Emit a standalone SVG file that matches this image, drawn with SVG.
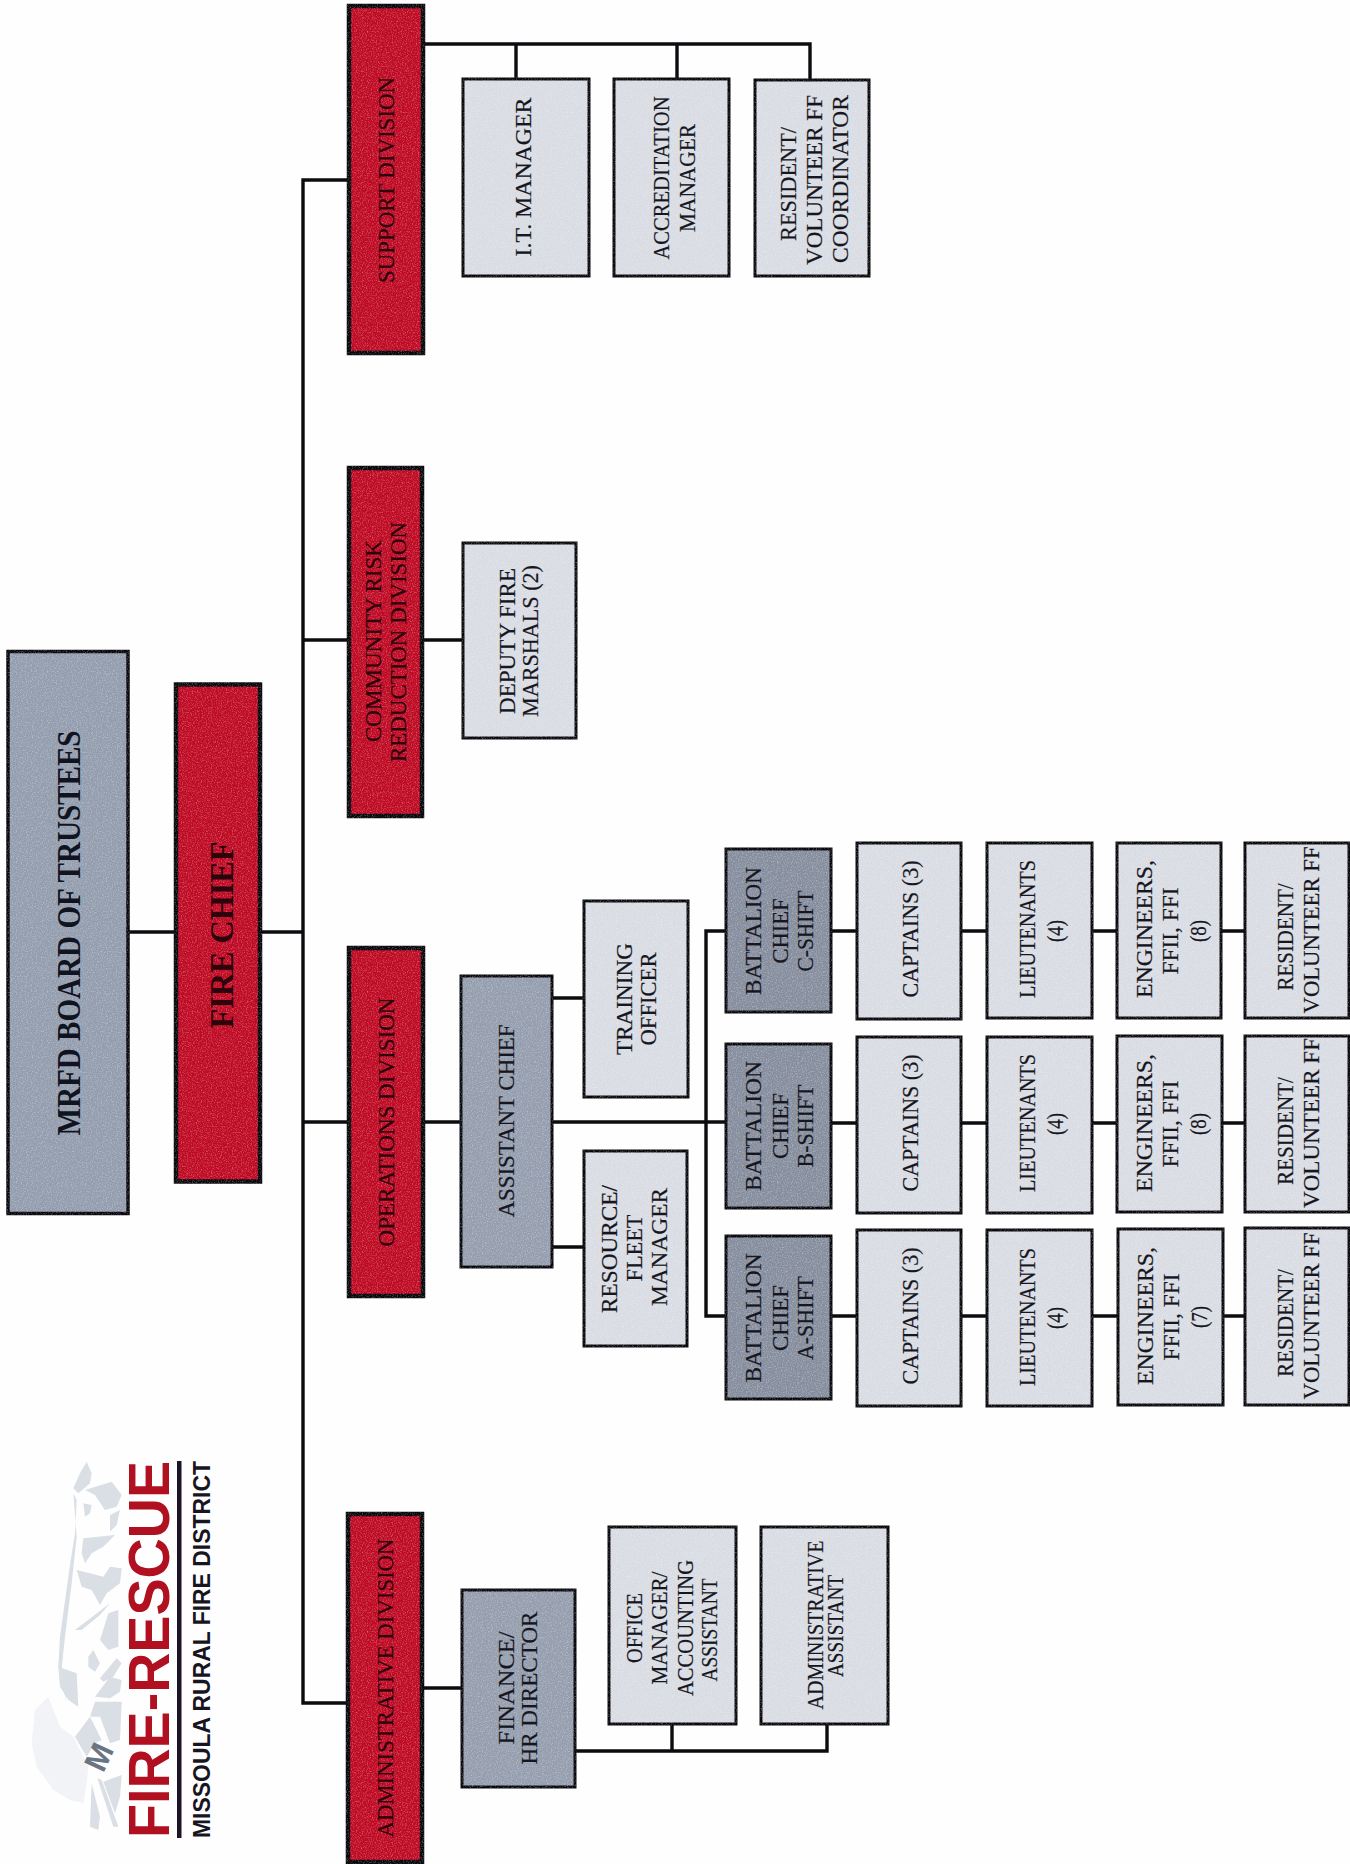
<svg xmlns="http://www.w3.org/2000/svg" width="1350" height="1864" viewBox="0 0 1350 1864">
<defs>
<filter id="grain" x="-8%" y="-8%" width="116%" height="116%" color-interpolation-filters="sRGB">
<feTurbulence type="fractalNoise" baseFrequency="0.8" numOctaves="2" seed="3" result="n"/>
<feColorMatrix in="n" type="matrix" values="0 0 0 0 1 0 0 0 0 1 0 0 0 0 1 0.8 0 0 0 -0.36" result="a"/>
<feComposite in="a" in2="SourceGraphic" operator="in" result="b"/>
<feMerge><feMergeNode in="SourceGraphic"/><feMergeNode in="b"/></feMerge>
</filter>
</defs>
<style>
.bg{fill:#fefefe}
rect.n{stroke:#08080c;filter:url(#grain)}
.red{fill:#bf0a24;stroke-width:4.5}
.top{fill:#939dae;stroke-width:3.5}
.sl{fill:#959eae;stroke-width:3}
.bc{fill:#868e9e;stroke-width:3}
.lt{fill:#d9dce3;stroke-width:3}
text{font-family:"Liberation Serif","Times New Roman",serif;font-size:23px;text-anchor:middle;fill:#16161e;stroke:#16161e;stroke-width:.2}
text.r{fill:#2e040c;stroke:#2e040c}
text.b{font-weight:700;font-size:33px;fill:#101420;stroke:none}
text.rb{font-weight:700;font-size:34px;fill:#2e040c;stroke:none}
.c{fill:none;stroke:#0c0c10;stroke-width:3.4;stroke-linejoin:miter}
.m{fill:#dadee5}
.m2{fill:#f1f3f6}
text.l1{font-family:"Liberation Sans",Arial,sans-serif;font-weight:700;font-size:57px;fill:#b0101f;text-anchor:start;stroke:none}
text.l2{font-family:"Liberation Sans",Arial,sans-serif;font-weight:700;font-size:23.5px;fill:#17151f;text-anchor:start;stroke:none}
text.l3{font-family:"Liberation Sans",Arial,sans-serif;font-weight:700;font-size:32px;fill:#6a7482;stroke:none}
</style>
<rect class="bg" width="1350" height="1864"/>

<g id="logo">
<g transform="translate(20 1450) scale(.3333)">
<polygon class="m2" points="45,780 85,740 120,830 160,860 205,950 200,1000 190,1060 150,1050 100,1020 50,950 35,880"/>
<polygon class="m" points="200,35 215,70 210,100 175,130 160,115 180,70"/>
<polygon class="m" points="195,120 275,95 305,135 290,170 255,180 225,135"/>
<polygon class="m" points="190,160 215,165 210,190 195,200"/>
<polygon class="m" points="270,195 300,180 290,225 270,245"/>
<polygon class="m" points="160,130 170,150 165,250 150,345 120,560 115,650 140,760 125,655 135,560 155,400 170,260"/>
<polygon class="m" points="190,265 285,255 250,290 215,310 195,340 185,310"/>
<polygon class="m" points="170,360 210,370 250,380 270,350 305,355 300,400 260,430 240,465 215,420 185,410"/>
<polygon class="m" points="165,540 270,460 240,495 185,540"/>
<polygon class="m" points="240,570 265,490 295,480 295,590 265,600"/>
<polygon class="m" points="205,620 220,600 240,640 225,665 205,650"/>
<polygon class="m" points="240,685 290,625 305,640 280,680 250,695"/>
<polygon class="m" points="115,650 170,670 175,770 145,750 120,710"/>
<polygon class="m" points="225,740 270,680 305,690 300,725 270,745"/>
<polygon class="m" points="225,755 305,755 300,870 270,880 240,800 210,800"/>
<polygon class="m" points="165,860 210,800 245,870 225,880 200,920"/>
<polygon class="m" points="250,995 305,975 300,1040 285,1090"/>
<polygon class="m" points="215,1000 240,1100 235,1140 210,1130"/>
<polygon class="m" points="232,985 245,990 295,1130 280,1130"/>
</g>
<text class="l3" transform="rotate(-65 99 1757)" x="99" y="1768">M</text>
<text class="l1" transform="rotate(-90 169 1838)" x="169" y="1838" textLength="377" lengthAdjust="spacingAndGlyphs">FIRE-RESCUE</text>
<rect x="177" y="1461" width="4.500" height="377" fill="#1a1426"/>
<text class="l2" transform="rotate(-90 210 1838)" x="210" y="1838" textLength="377" lengthAdjust="spacingAndGlyphs">MISSOULA RURAL FIRE DISTRICT</text>
</g>

<g id="connectors">
<path class="c" d="M128 932H303"/>
<path class="c" d="M348 180H303V1703H348"/>
<path class="c" d="M303 640H348"/>
<path class="c" d="M303 1122H348"/>
<path class="c" d="M423 44H810V79M516 44V79M677 44V79"/>
<path class="c" d="M422 640H462"/>
<path class="c" d="M423 1122H726"/>
<path class="c" d="M552 998H583M552 1247H583"/>
<path class="c" d="M726 931H706V1316H726"/>
<path class="c" d="M831 931H1245M831 1123H1245M831 1316H1245"/>
<path class="c" d="M422 1688H461"/>
<path class="c" d="M575 1751H827V1724M672 1751V1724"/>
</g>

<g id="board"><rect class="n top" x="8" y="651.500" width="120" height="562"/>
<text class="b" transform="rotate(-90 80 933)" x="80" y="933" textLength="405" lengthAdjust="spacingAndGlyphs">MRFD BOARD OF TRUSTEES</text></g>
<g id="fire-chief"><rect class="n red" x="176" y="684.500" width="84" height="497"/>
<text class="rb" transform="rotate(-90 233 935)" x="233" y="935" textLength="187" lengthAdjust="spacingAndGlyphs">FIRE CHIEF</text></g>

<g id="support-division"><rect class="n red" x="349" y="6" width="74" height="347"/>
<text class="r" transform="rotate(-90 394 180)" x="394" y="180" textLength="206" lengthAdjust="spacingAndGlyphs">SUPPORT DIVISION</text></g>
<g id="it-manager"><rect class="n lt" x="463" y="79" width="126" height="197"/>
<text transform="rotate(-90 531 177)" x="531" y="177" textLength="159" lengthAdjust="spacingAndGlyphs">I.T. MANAGER</text></g>
<g id="accreditation-manager"><rect class="n lt" x="614" y="79" width="115" height="197"/>
<text transform="rotate(-90 669 178)" x="669" y="178" textLength="163" lengthAdjust="spacingAndGlyphs">ACCREDITATION</text>
<text transform="rotate(-90 695 178)" x="695" y="178" textLength="108" lengthAdjust="spacingAndGlyphs">MANAGER</text></g>
<g id="volunteer-coordinator"><rect class="n lt" x="755" y="80" width="114" height="196"/>
<text transform="rotate(-90 796 184)" x="796" y="184" textLength="114" lengthAdjust="spacingAndGlyphs">RESIDENT/</text>
<text transform="rotate(-90 822 180)" x="822" y="180" textLength="170" lengthAdjust="spacingAndGlyphs">VOLUNTEER FF</text>
<text transform="rotate(-90 848 179)" x="848" y="179" textLength="168" lengthAdjust="spacingAndGlyphs">COORDINATOR</text></g>

<g id="community-risk-division"><rect class="n red" x="349" y="468" width="73" height="348"/>
<text class="r" transform="rotate(-90 381 641)" x="381" y="641" textLength="202" lengthAdjust="spacingAndGlyphs">COMMUNITY RISK</text>
<text class="r" transform="rotate(-90 406 642)" x="406" y="642" textLength="240" lengthAdjust="spacingAndGlyphs">REDUCTION DIVISION</text></g>
<g id="deputy-fire-marshals"><rect class="n lt" x="463" y="543" width="113" height="195"/>
<text transform="rotate(-90 515 641)" x="515" y="641" textLength="146" lengthAdjust="spacingAndGlyphs">DEPUTY FIRE</text>
<text transform="rotate(-90 538 641)" x="538" y="641" textLength="152" lengthAdjust="spacingAndGlyphs">MARSHALS (2)</text></g>

<g id="operations-division"><rect class="n red" x="349" y="948" width="74" height="348"/>
<text class="r" transform="rotate(-90 394 1122)" x="394" y="1122" textLength="249" lengthAdjust="spacingAndGlyphs">OPERATIONS DIVISION</text></g>
<g id="assistant-chief"><rect class="n sl" x="461" y="976" width="91" height="291"/>
<text transform="rotate(-90 514 1121)" x="514" y="1121" textLength="193" lengthAdjust="spacingAndGlyphs">ASSISTANT CHIEF</text></g>
<g id="training-officer"><rect class="n lt" x="584" y="901" width="104" height="196"/>
<text transform="rotate(-90 632 999)" x="632" y="999" textLength="112" lengthAdjust="spacingAndGlyphs">TRAINING</text>
<text transform="rotate(-90 656 999)" x="656" y="999" textLength="93" lengthAdjust="spacingAndGlyphs">OFFICER</text></g>
<g id="resource-fleet-manager"><rect class="n lt" x="584" y="1151" width="103" height="195"/>
<text transform="rotate(-90 617 1249)" x="617" y="1249" textLength="128" lengthAdjust="spacingAndGlyphs">RESOURCE/</text>
<text transform="rotate(-90 642 1248)" x="642" y="1248" textLength="67" lengthAdjust="spacingAndGlyphs">FLEET</text>
<text transform="rotate(-90 667 1247)" x="667" y="1247" textLength="118" lengthAdjust="spacingAndGlyphs">MANAGER</text></g>

<g id="bc-c"><rect class="n bc" x="726" y="849" width="105" height="163"/>
<text transform="rotate(-90 761 931)" x="761" y="931" textLength="128" lengthAdjust="spacingAndGlyphs">BATTALION</text>
<text transform="rotate(-90 788 931)" x="788" y="931" textLength="65" lengthAdjust="spacingAndGlyphs">CHIEF</text>
<text transform="rotate(-90 813 931)" x="813" y="931" textLength="81" lengthAdjust="spacingAndGlyphs">C-SHIFT</text></g>
<g id="bc-b"><rect class="n bc" x="726" y="1044" width="105" height="164"/>
<text transform="rotate(-90 761 1126)" x="761" y="1126" textLength="130" lengthAdjust="spacingAndGlyphs">BATTALION</text>
<text transform="rotate(-90 788 1126)" x="788" y="1126" textLength="66" lengthAdjust="spacingAndGlyphs">CHIEF</text>
<text transform="rotate(-90 813 1126)" x="813" y="1126" textLength="83" lengthAdjust="spacingAndGlyphs">B-SHIFT</text></g>
<g id="bc-a"><rect class="n bc" x="726" y="1236" width="105" height="163"/>
<text transform="rotate(-90 761 1318)" x="761" y="1318" textLength="129" lengthAdjust="spacingAndGlyphs">BATTALION</text>
<text transform="rotate(-90 788 1318)" x="788" y="1318" textLength="66" lengthAdjust="spacingAndGlyphs">CHIEF</text>
<text transform="rotate(-90 813 1318)" x="813" y="1318" textLength="84" lengthAdjust="spacingAndGlyphs">A-SHIFT</text></g>

<g id="captains-c"><rect class="n lt" x="857" y="843" width="104" height="176"/>
<text transform="rotate(-90 918 929)" x="918" y="929" textLength="137" lengthAdjust="spacingAndGlyphs">CAPTAINS (3)</text></g>
<g id="captains-b"><rect class="n lt" x="857" y="1037" width="104" height="176"/>
<text transform="rotate(-90 918 1123)" x="918" y="1123" textLength="137" lengthAdjust="spacingAndGlyphs">CAPTAINS (3)</text></g>
<g id="captains-a"><rect class="n lt" x="857" y="1230" width="104" height="176"/>
<text transform="rotate(-90 918 1316)" x="918" y="1316" textLength="137" lengthAdjust="spacingAndGlyphs">CAPTAINS (3)</text></g>

<g id="lieutenants-c"><rect class="n lt" x="987" y="843" width="105" height="175"/>
<text transform="rotate(-90 1035 929)" x="1035" y="929" textLength="138" lengthAdjust="spacingAndGlyphs">LIEUTENANTS</text>
<text transform="rotate(-90 1063 931)" x="1063" y="931" textLength="22" lengthAdjust="spacingAndGlyphs">(4)</text></g>
<g id="lieutenants-b"><rect class="n lt" x="987" y="1037" width="105" height="176"/>
<text transform="rotate(-90 1035 1123)" x="1035" y="1123" textLength="138" lengthAdjust="spacingAndGlyphs">LIEUTENANTS</text>
<text transform="rotate(-90 1063 1124)" x="1063" y="1124" textLength="22" lengthAdjust="spacingAndGlyphs">(4)</text></g>
<g id="lieutenants-a"><rect class="n lt" x="987" y="1230" width="105" height="176"/>
<text transform="rotate(-90 1035 1317)" x="1035" y="1317" textLength="138" lengthAdjust="spacingAndGlyphs">LIEUTENANTS</text>
<text transform="rotate(-90 1063 1318)" x="1063" y="1318" textLength="22" lengthAdjust="spacingAndGlyphs">(4)</text></g>

<g id="engineers-c"><rect class="n lt" x="1117" y="843" width="104" height="175"/>
<text transform="rotate(-90 1152 929)" x="1152" y="929" textLength="138" lengthAdjust="spacingAndGlyphs">ENGINEERS,</text>
<text transform="rotate(-90 1178 931)" x="1178" y="931" textLength="87" lengthAdjust="spacingAndGlyphs">FFII, FFI</text>
<text transform="rotate(-90 1206 931)" x="1206" y="931" textLength="22" lengthAdjust="spacingAndGlyphs">(8)</text></g>
<g id="engineers-b"><rect class="n lt" x="1117" y="1036" width="105" height="176"/>
<text transform="rotate(-90 1152 1123)" x="1152" y="1123" textLength="138" lengthAdjust="spacingAndGlyphs">ENGINEERS,</text>
<text transform="rotate(-90 1178 1124)" x="1178" y="1124" textLength="87" lengthAdjust="spacingAndGlyphs">FFII, FFI</text>
<text transform="rotate(-90 1206 1124)" x="1206" y="1124" textLength="22" lengthAdjust="spacingAndGlyphs">(8)</text></g>
<g id="engineers-a"><rect class="n lt" x="1118" y="1229" width="105" height="176"/>
<text transform="rotate(-90 1153 1316)" x="1153" y="1316" textLength="138" lengthAdjust="spacingAndGlyphs">ENGINEERS,</text>
<text transform="rotate(-90 1179 1317)" x="1179" y="1317" textLength="87" lengthAdjust="spacingAndGlyphs">FFII, FFI</text>
<text transform="rotate(-90 1207 1317)" x="1207" y="1317" textLength="22" lengthAdjust="spacingAndGlyphs">(7)</text></g>

<g id="resident-c"><rect class="n lt" x="1245" y="843" width="104" height="175"/>
<text transform="rotate(-90 1293 937)" x="1293" y="937" textLength="107" lengthAdjust="spacingAndGlyphs">RESIDENT/</text>
<text transform="rotate(-90 1319 930)" x="1319" y="930" textLength="167" lengthAdjust="spacingAndGlyphs">VOLUNTEER FF</text></g>
<g id="resident-b"><rect class="n lt" x="1245" y="1036" width="104" height="176"/>
<text transform="rotate(-90 1293 1131)" x="1293" y="1131" textLength="108" lengthAdjust="spacingAndGlyphs">RESIDENT/</text>
<text transform="rotate(-90 1319 1123)" x="1319" y="1123" textLength="170" lengthAdjust="spacingAndGlyphs">VOLUNTEER FF</text></g>
<g id="resident-a"><rect class="n lt" x="1245" y="1228" width="104" height="177"/>
<text transform="rotate(-90 1293 1323)" x="1293" y="1323" textLength="108" lengthAdjust="spacingAndGlyphs">RESIDENT/</text>
<text transform="rotate(-90 1319 1316)" x="1319" y="1316" textLength="167" lengthAdjust="spacingAndGlyphs">VOLUNTEER FF</text></g>

<g id="administrative-division"><rect class="n red" x="348" y="1514" width="74" height="348"/>
<text class="r" transform="rotate(-90 393 1688)" x="393" y="1688" textLength="299" lengthAdjust="spacingAndGlyphs">ADMINISTRATIVE DIVISION</text></g>
<g id="finance-hr-director"><rect class="n sl" x="462" y="1590" width="113" height="197"/>
<text transform="rotate(-90 514 1688)" x="514" y="1688" textLength="113" lengthAdjust="spacingAndGlyphs">FINANCE/</text>
<text transform="rotate(-90 537 1688)" x="537" y="1688" textLength="153" lengthAdjust="spacingAndGlyphs">HR DIRECTOR</text></g>
<g id="office-manager"><rect class="n lt" x="609" y="1527" width="127" height="197"/>
<text transform="rotate(-90 642 1628)" x="642" y="1628" textLength="70" lengthAdjust="spacingAndGlyphs">OFFICE</text>
<text transform="rotate(-90 667 1628)" x="667" y="1628" textLength="113" lengthAdjust="spacingAndGlyphs">MANAGER/</text>
<text transform="rotate(-90 693 1628)" x="693" y="1628" textLength="136" lengthAdjust="spacingAndGlyphs">ACCOUNTING</text>
<text transform="rotate(-90 717 1630)" x="717" y="1630" textLength="103" lengthAdjust="spacingAndGlyphs">ASSISTANT</text></g>
<g id="administrative-assistant"><rect class="n lt" x="761" y="1527" width="127" height="197"/>
<text transform="rotate(-90 823 1625)" x="823" y="1625" textLength="169" lengthAdjust="spacingAndGlyphs">ADMINISTRATIVE</text>
<text transform="rotate(-90 843 1626)" x="843" y="1626" textLength="102" lengthAdjust="spacingAndGlyphs">ASSISTANT</text></g>
</svg>
